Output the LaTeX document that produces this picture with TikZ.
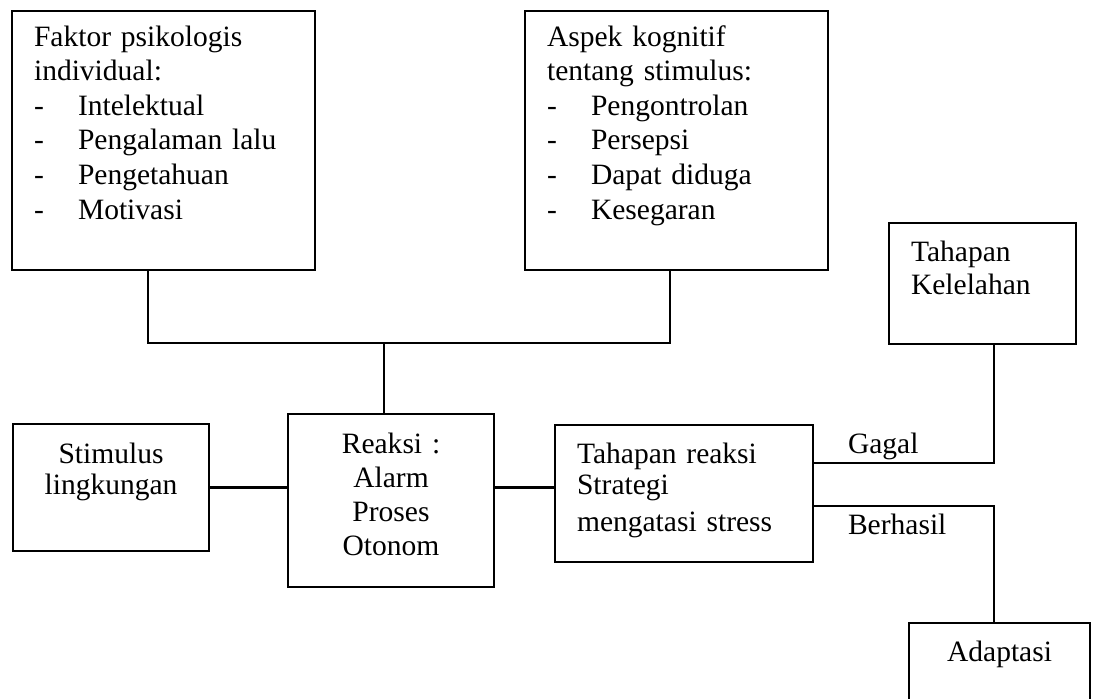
\documentclass[tikz,border=0pt]{standalone}
\usepackage{fontspec}
\setmainfont{Liberation Serif}

\tikzset{
  box/.style={draw, line width=1.2pt, anchor=north west, inner ysep=0pt, inner xsep=0.44cm,
    font=\fontsize{16.8}{19.7}\selectfont},
  listbox/.style={box, align=left, text width=5.18cm, text height=0.70cm, text depth=4.48cm},
  label/.style={anchor=base west, inner sep=0pt, font=\fontsize{16.8}{19.7}\selectfont}
}
\newcommand{\butir}[1]{\makebox[0.88cm][l]{-}#1}

\begin{document}
\begin{tikzpicture}[x=0.02cm, y=-0.02cm, line width=1.2pt]
                \useasboundingbox (0,0) rectangle (1093,698);

                \node (faktor) at (11, 10) [listbox] {Faktor psikologis\\individual:\\\butir{Intelektual}\\\butir{Pengalaman lalu}\\\butir{Pengetahuan}\\\butir{Motivasi}};
                \node (aspek) at (524, 10) [listbox] {Aspek kognitif\\tentang stimulus:\\\butir{Pengontrolan}\\\butir{Persepsi}\\\butir{Dapat diduga}\\\butir{Kesegaran}};
                \node (kelelahan) at (888, 222) [box, align=left, text width=2.86cm, text height=0.76cm, text depth=1.66cm, font=\fontsize{16.8}{18.8}\selectfont] {Tahapan\\Kelelahan};
                \node (stimulus) at (12, 423) [box, align=center, text width=3.04cm, text height=0.78cm, text depth=1.76cm, font=\fontsize{16.8}{17.9}\selectfont] {Stimulus\\lingkungan};
                \node (reaksi) at (287, 413) [box, align=center, text width=3.24cm, text height=0.78cm, text depth=2.68cm, font=\fontsize{16.8}{19.5}\selectfont] {Reaksi :\\Alarm\\Proses\\Otonom};
                \node (tahapan) at (554, 424) [box, align=left, text width=4.28cm, text height=0.76cm, text depth=1.98cm, font=\fontsize{16.8}{17.8}\selectfont] {Tahapan reaksi\\Strategi\\[0.12cm]mengatasi stress};
                \node (adaptasi) at (908, 622) [box, align=center, text width=2.74cm, text height=0.76cm, text depth=1.66cm] {Adaptasi};

                \coordinate (jl) at (148, 343);
                \coordinate (jm) at (384, 343);
                \coordinate (jr) at (670, 343);
                \coordinate (g) at (994, 463);
                \coordinate (b) at (994, 506);

                \draw (faktor.south -| jl) -- (jl) -- (jr) -- (aspek.south -| jr);
                \draw (jm) -- (reaksi.north -| jm);
                \draw (stimulus.east) -- (stimulus.east -| reaksi.west);
                \draw (reaksi.east |- stimulus.east) -- (tahapan.west |- stimulus.east);
                \draw (tahapan.east |- g) -- (g) -- (kelelahan.south -| g);
                \draw (tahapan.east |- b) -- (b) -- (adaptasi.north -| b);

                \node (gagal) at (847, 453) [label] {Gagal};
                \node (berhasil) at (847, 534) [label] {Berhasil};
            \end{tikzpicture}
\end{document}
